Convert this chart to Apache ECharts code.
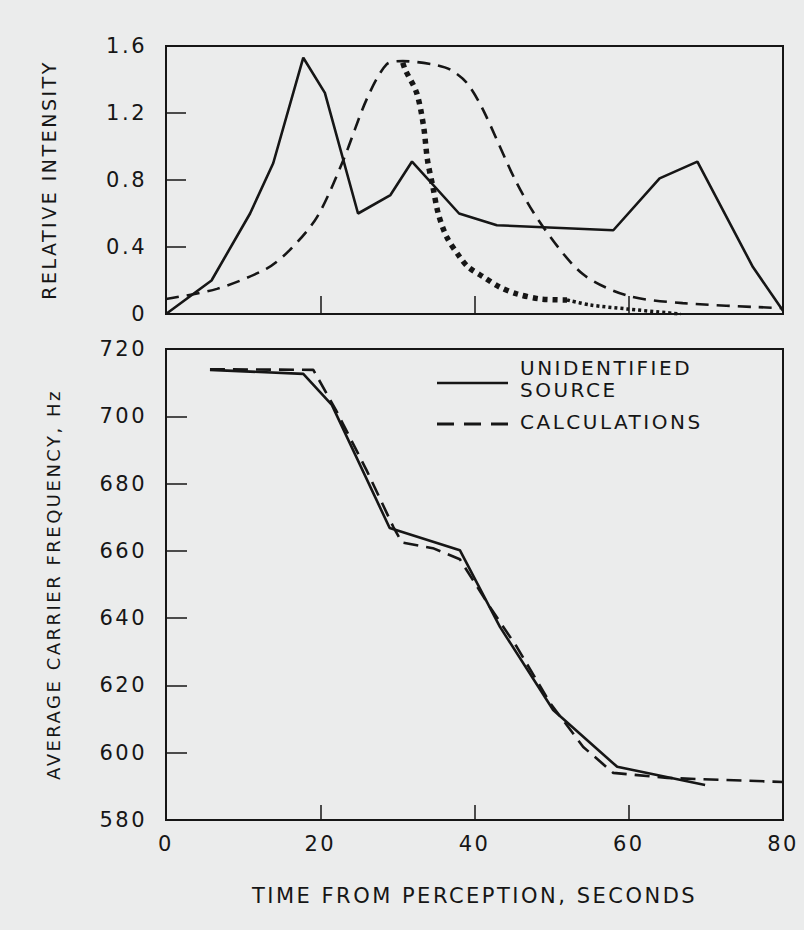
<!DOCTYPE html>
<html lang="en">

<head>
    <meta charset="UTF-8">
    <title>Intensity and carrier frequency</title>
    <style>
        body,
        html {
            margin: 0;
            height: 100%;
            overflow: hidden;
            background: #ebecec;
        }

        #main {
            width: 804px;
            height: 930px;
        }

        /* the lettering on the original is widely spaced */
        #main text {
            letter-spacing: 2.5px;
        }
    </style>
</head>

<body>
    <div id="main"></div>
    <script src="https://cdn.jsdelivr.net/npm/echarts@6/dist/echarts.min.js"></script>
    <script type="text/javascript">
        // x axis: time from perception, s
        const timeTicks = [0, 20, 40, 60, 80]
        // top panel y ticks
        const intensityTicks = [0, 0.4, 0.8, 1.2, 1.6]
        // bottom panel y ticks
        const freqTicks = [580, 600, 620, 640, 660, 680, 700, 720]

        // [time, relative intensity]
        const sourceIntensity = [
            [0, 0], [5.9, 0.2], [10.9, 0.6], [13.9, 0.9], [17.8, 1.53], [20.6, 1.32],
            [24.9, 0.6], [29.1, 0.71], [31.9, 0.91], [38, 0.6], [42.9, 0.53], [58, 0.5],
            [64, 0.81], [68.9, 0.91], [76.1, 0.28], [80, 0.02]
        ]
        const calcIntensity = [
            [0, 0.09], [6.6, 0.15], [13, 0.27], [16, 0.38], [19.6, 0.58], [23, 0.92],
            [26, 1.28], [28.6, 1.49], [30.7, 1.51], [34.6, 1.49], [36.8, 1.46], [39, 1.38],
            [41.1, 1.22], [45.5, 0.78], [48.9, 0.52], [54, 0.24], [59.8, 0.11], [67, 0.065],
            [80, 0.035]
        ]
        // heavy dotted curve and its fine dotted tail
        const dottedIntensity = [
            [30.7, 1.5], [31, 1.46], [32.5, 1.32], [33.4, 1.12], [33.9, 0.92], [34.6, 0.76],
            [35.3, 0.6], [36.4, 0.46], [38.1, 0.34], [39.2, 0.28], [41.2, 0.22], [43.3, 0.16],
            [45.5, 0.12], [48.5, 0.09], [52, 0.084]
        ]
        const dottedTail = [[52, 0.084], [55, 0.054], [59.8, 0.03], [66.7, 0]]

        // [time, average carrier frequency Hz]
        const sourceFreq = [
            [5.7, 713.8], [17.8, 712.6], [21.5, 703.4], [29, 666.8], [38.1, 660.2],
            [43.3, 637.4], [50.2, 612.7], [58.5, 595.8], [69.9, 590.4]
        ]
        const calcFreq = [
            [5.7, 714], [19.1, 713.8], [22, 702], [26, 684], [29.5, 667], [30.6, 662.5],
            [34.6, 660.8], [38.1, 657.5], [42, 643.3], [45.5, 631.4], [49.8, 614.8],
            [54.1, 601.7], [58, 594], [65, 592.5], [80, 591.3]
        ]

        const ink = '#161616'
        const font = 'DejaVu Sans'

        var myChart = echarts.init(document.getElementById('main'), null, { renderer: 'svg' });

        function frameAxis(extra) {
            return Object.assign({
                type: 'value',
                axisLine: { show: true, onZero: false, lineStyle: { color: ink, width: 2 } },
                axisTick: { show: true, inside: true, length: 18, lineStyle: { color: ink, width: 1.5 } },
                splitLine: { show: false },
                axisLabel: { color: ink, fontFamily: font, fontSize: 21 },
                nameTextStyle: { color: ink, fontFamily: font, fontSize: 19 },
                nameLocation: 'middle'
            }, extra)
        }

        var option = {
            backgroundColor: '#ebecec',
            animation: false,
            grid: [
                { left: 166, top: 46, width: 617, height: 268, show: true, borderColor: ink, borderWidth: 2 },
                { left: 166, top: 349, width: 617, height: 471, show: true, borderColor: ink, borderWidth: 2 }
            ],
            xAxis: [
                frameAxis({
                    gridIndex: 0,
                    min: timeTicks[0], max: timeTicks[timeTicks.length - 1], interval: 20,
                    axisLabel: { show: false }
                }),
                frameAxis({
                    gridIndex: 1,
                    min: timeTicks[0], max: timeTicks[timeTicks.length - 1], interval: 20,
                    axisTick: { show: true, inside: true, length: 15, lineStyle: { color: ink, width: 1.5 } },
                    axisLabel: { color: ink, fontFamily: font, fontSize: 21, margin: 13 },
                    name: 'TIME FROM PERCEPTION, SECONDS',
                    nameGap: 65,
                    nameTextStyle: { color: ink, fontFamily: font, fontSize: 21 }
                })
            ],
            yAxis: [
                frameAxis({
                    gridIndex: 0,
                    min: intensityTicks[0], max: intensityTicks[intensityTicks.length - 1], interval: 0.4,
                    axisTick: { show: true, inside: true, length: 20, lineStyle: { color: ink, width: 1.5 } },
                    axisLabel: {
                        color: ink, fontFamily: font, fontSize: 21, margin: 19,
                        formatter: v => v === 0 ? '0' : v.toFixed(1)
                    },
                    name: 'RELATIVE INTENSITY',
                    nameGap: 108
                }),
                frameAxis({
                    gridIndex: 1,
                    min: freqTicks[0], max: freqTicks[freqTicks.length - 1], interval: 20,
                    axisTick: { show: true, inside: true, length: 21, lineStyle: { color: ink, width: 1.5 } },
                    axisLabel: { color: ink, fontFamily: font, fontSize: 21, margin: 19 },
                    name: 'AVERAGE CARRIER FREQUENCY, Hz',
                    nameGap: 104,
                    nameTextStyle: { color: ink, fontFamily: font, fontSize: 18 }
                })
            ],
            series: [
                {
                    name: 'UNIDENTIFIED SOURCE', type: 'line', xAxisIndex: 0, yAxisIndex: 0,
                    data: sourceIntensity, symbol: 'none',
                    lineStyle: { color: ink, width: 2.6 }
                },
                {
                    name: 'CALCULATIONS', type: 'line', xAxisIndex: 0, yAxisIndex: 0,
                    data: calcIntensity, symbol: 'none', smooth: 0.3,
                    lineStyle: { color: ink, width: 2.6, type: [13, 8] }
                },
                {
                    name: 'dotted', type: 'line', xAxisIndex: 0, yAxisIndex: 0,
                    data: dottedIntensity, symbol: 'none', smooth: 0.3,
                    lineStyle: { color: ink, width: 5.5, type: [5, 5] }
                },
                {
                    name: 'dotted tail', type: 'line', xAxisIndex: 0, yAxisIndex: 0,
                    data: dottedTail, symbol: 'none', smooth: 0.3,
                    lineStyle: { color: ink, width: 3.5, type: [3, 3] }
                },
                {
                    name: 'UNIDENTIFIED SOURCE', type: 'line', xAxisIndex: 1, yAxisIndex: 1,
                    data: sourceFreq, symbol: 'none',
                    lineStyle: { color: ink, width: 2.6 }
                },
                {
                    name: 'CALCULATIONS', type: 'line', xAxisIndex: 1, yAxisIndex: 1,
                    data: calcFreq, symbol: 'none',
                    lineStyle: { color: ink, width: 2.6, type: [15, 8] }
                }
            ],
            // legend box drawn by hand, like the original
            graphic: {
                elements: [
                    { type: 'line', shape: { x1: 437, y1: 383, x2: 508, y2: 383 }, style: { stroke: ink, lineWidth: 2.5 } },
                    { type: 'line', shape: { x1: 437, y1: 424, x2: 510, y2: 424 }, style: { stroke: ink, lineWidth: 3, lineDash: [17, 10] } },
                    { type: 'text', left: 520, top: 358, style: { text: 'UNIDENTIFIED', font: '20px "DejaVu Sans"', fill: ink } },
                    { type: 'text', left: 520, top: 380, style: { text: 'SOURCE', font: '20px "DejaVu Sans"', fill: ink } },
                    { type: 'text', left: 520, top: 412, style: { text: 'CALCULATIONS', font: '20px "DejaVu Sans"', fill: ink } }
                ]
            }
        };

        myChart.setOption(option);
    </script>
</body>

</html>
